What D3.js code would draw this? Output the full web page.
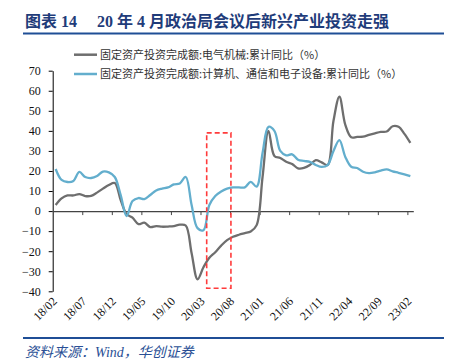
<!DOCTYPE html>
<html>
<head>
<meta charset="utf-8">
<script src="https://cdn.jsdelivr.net/npm/d3@7"></script>
<style>
  html, body { margin: 0; padding: 0; background: #fff; }
  svg { display: block; }
</style>
</head>
<body>
<svg id="chart" width="453" height="364"></svg>
<script>
// ---- data ----
const months = [
  "18/02","18/03","18/04","18/05","18/06","18/07","18/08","18/09","18/10","18/11","18/12",
  "19/01","19/02","19/03","19/04","19/05","19/06","19/07","19/08","19/09","19/10","19/11","19/12",
  "20/01","20/02","20/03","20/04","20/05","20/06","20/07","20/08","20/09","20/10","20/11","20/12",
  "21/01","21/02","21/03","21/04","21/05","21/06","21/07","21/08","21/09","21/10","21/11","21/12",
  "22/01","22/02","22/03","22/04","22/05","22/06","22/07","22/08","22/09","22/10","22/11","22/12",
  "23/01","23/02"
];
const electricalMachinery = [
  3, 6.3, 7.8, 7.8, 8.5, 7.5, 7.6, 9.2, 11.2, 13, 14,
  5.5, -1.5, -3.3, -6.5, -5.8, -8, -7.5, -7.8, -7.7, -7.5, -6.8, -7.2,
  -21, -34, -28, -23.3, -20.5, -17.2, -14.5, -12.8, -11.8, -11, -10.2, -7,
  17, 40, 27.5, 26.5, 24.6, 23.5, 21.3, 21.5, 23, 25.4, 24.3, 23,
  45, 57, 43, 36.8, 37, 37.1, 38, 38.8, 39.5, 39.7, 42.3, 42,
  38.5, 34
];
const computerElectronics = [
  21, 15.5, 14.5, 15, 19.5, 17, 16.5, 17.5, 19.7, 19.3, 17,
  8, -2.5, 5, 6.5, 6, 8, 10.3, 11.2, 11.8, 13.3, 13.8, 17,
  3, -8.5, -9.5, 3, 7.5, 9.8, 11.2, 11.8, 11.8, 11.8, 14.6, 12.2,
  29, 42, 40, 30, 27.8, 28.3, 25.6, 25, 24.5, 23, 22, 22.9,
  30, 35.4, 27, 22.1, 21.5, 19.6, 18.9, 19.3, 20.2, 20.8, 19.8, 19.1,
  18.3, 17.4
];
const seriesNames = [
  "固定资产投资完成额:电气机械:累计同比（%）",
  "固定资产投资完成额:计算机、通信和电子设备:累计同比（%）"
];
const seriesColors = ["#6e6e6e", "#63aecd"];
const yTicks = [70, 60, 50, 40, 30, 20, 10, 0, -10, -20, -30, -40];
const xLabels = ["18/02","18/07","18/12","19/05","19/10","20/03","20/08","21/01","21/06","21/11","22/04","22/09","23/02"];
const highlightFrom = "20/04", highlightTo = "20/07";
const highlightRange = [39, -38.5];
const titleLabel = "图表 14";
const titleText = "20 年 4 月政治局会议后新兴产业投资走强";
const sourceText = "资料来源：Wind，华创证券";

// ---- layout ----
const svg = d3.select("#chart");
const pL = 52.7, pR = 413.3, pT = 70.7, pB = 291.3;

const xi = d3.scaleLinear().domain([0, months.length]).range([pL, pR]);
const xc = m => xi(months.indexOf(m) + 0.5);
const y = d3.scaleLinear().domain([-40, 70]).range([pB, pT]);

// title
svg.append("text").attr("x", 25).attr("y", 27)
  .attr("font-family", "'Liberation Serif','Noto Sans CJK SC',serif")
  .attr("font-weight", "bold").attr("font-size", 16).attr("fill", "#1f3c7a")
  .text(titleLabel);
svg.append("text").attr("x", 97).attr("y", 27)
  .attr("font-family", "'Liberation Serif','Noto Sans CJK SC',serif")
  .attr("font-weight", "bold").attr("font-size", 16).attr("fill", "#1f3c7a")
  .text(titleText);
svg.append("line").attr("x1", 23).attr("x2", 444).attr("y1", 33.5).attr("y2", 33.5)
  .attr("stroke", "#1f4e96").attr("stroke-width", 2);

// source
svg.append("line").attr("x1", 23).attr("x2", 444).attr("y1", 338).attr("y2", 338)
  .attr("stroke", "#1f4e96").attr("stroke-width", 2);
svg.append("text").attr("x", 25).attr("y", 357)
  .attr("font-family", "'Liberation Serif','Noto Sans CJK SC',serif")
  .attr("font-style", "italic").attr("font-size", 14).attr("fill", "#2a4f95")
  .text(sourceText);

// legend
const legendY = [54.7, 74];
seriesNames.forEach((name, k) => {
  svg.append("line").attr("x1", 74).attr("x2", 97).attr("y1", legendY[k]).attr("y2", legendY[k])
    .attr("stroke", seriesColors[k]).attr("stroke-width", 2.5);
  svg.append("text").attr("x", 100).attr("y", legendY[k] + 4)
    .attr("font-family", "'Noto Sans CJK SC',sans-serif")
    .attr("font-size", 11).attr("fill", "#333")
    .text(name);
});

// y axis
const yAxis = svg.append("g").attr("transform", `translate(${pL},0)`)
  .call(d3.axisLeft(y).tickValues(yTicks).tickSize(4).tickPadding(8).tickSizeOuter(0));
yAxis.select(".domain").attr("stroke", "#000");
yAxis.selectAll(".tick line").attr("stroke", "#000");
yAxis.selectAll("text").attr("font-family", "'Liberation Serif',serif")
  .attr("font-size", 12).attr("fill", "#111");

// x axis at zero
const tickIdx = d3.range(5, months.length, 5);
const xAxis = svg.append("g").attr("transform", `translate(0,${y(0)})`)
  .call(d3.axisBottom(xi).tickValues(tickIdx).tickSize(4).tickFormat("").tickSizeOuter(0));
xAxis.select(".domain").attr("stroke", "#444").attr("stroke-width", 1.2);
xAxis.selectAll(".tick line").attr("stroke", "#444");

// x labels
svg.append("g").selectAll("text").data(xLabels).join("text")
  .attr("transform", d => `translate(${xc(d) + 2},302) rotate(-45)`)
  .attr("text-anchor", "end")
  .attr("font-family", "'Liberation Serif',serif")
  .attr("font-size", 12).attr("fill", "#111")
  .text(d => d);

// lines
const line = d3.line()
  .x((d, i) => xi(i + 0.5))
  .y(d => y(d))
  .curve(d3.curveCatmullRom.alpha(0.5));
[electricalMachinery, computerElectronics].forEach((vals, k) => {
  svg.append("path").datum(vals)
    .attr("d", line)
    .attr("fill", "none")
    .attr("stroke", seriesColors[k])
    .attr("stroke-width", 2.3)
    .attr("stroke-linejoin", "round");
});

// highlight rectangle
const step = xi(1) - xi(0);
const hx0 = xc(highlightFrom) - 0.45 * step;
const hx1 = xc(highlightTo) + 0.65 * step;
svg.append("rect")
  .attr("x", hx0).attr("y", y(highlightRange[0]))
  .attr("width", hx1 - hx0).attr("height", y(highlightRange[1]) - y(highlightRange[0]))
  .attr("fill", "none").attr("stroke", "#ff3b3b").attr("stroke-width", 1.6)
  .attr("stroke-dasharray", "5,3");
</script>
</body>
</html>
